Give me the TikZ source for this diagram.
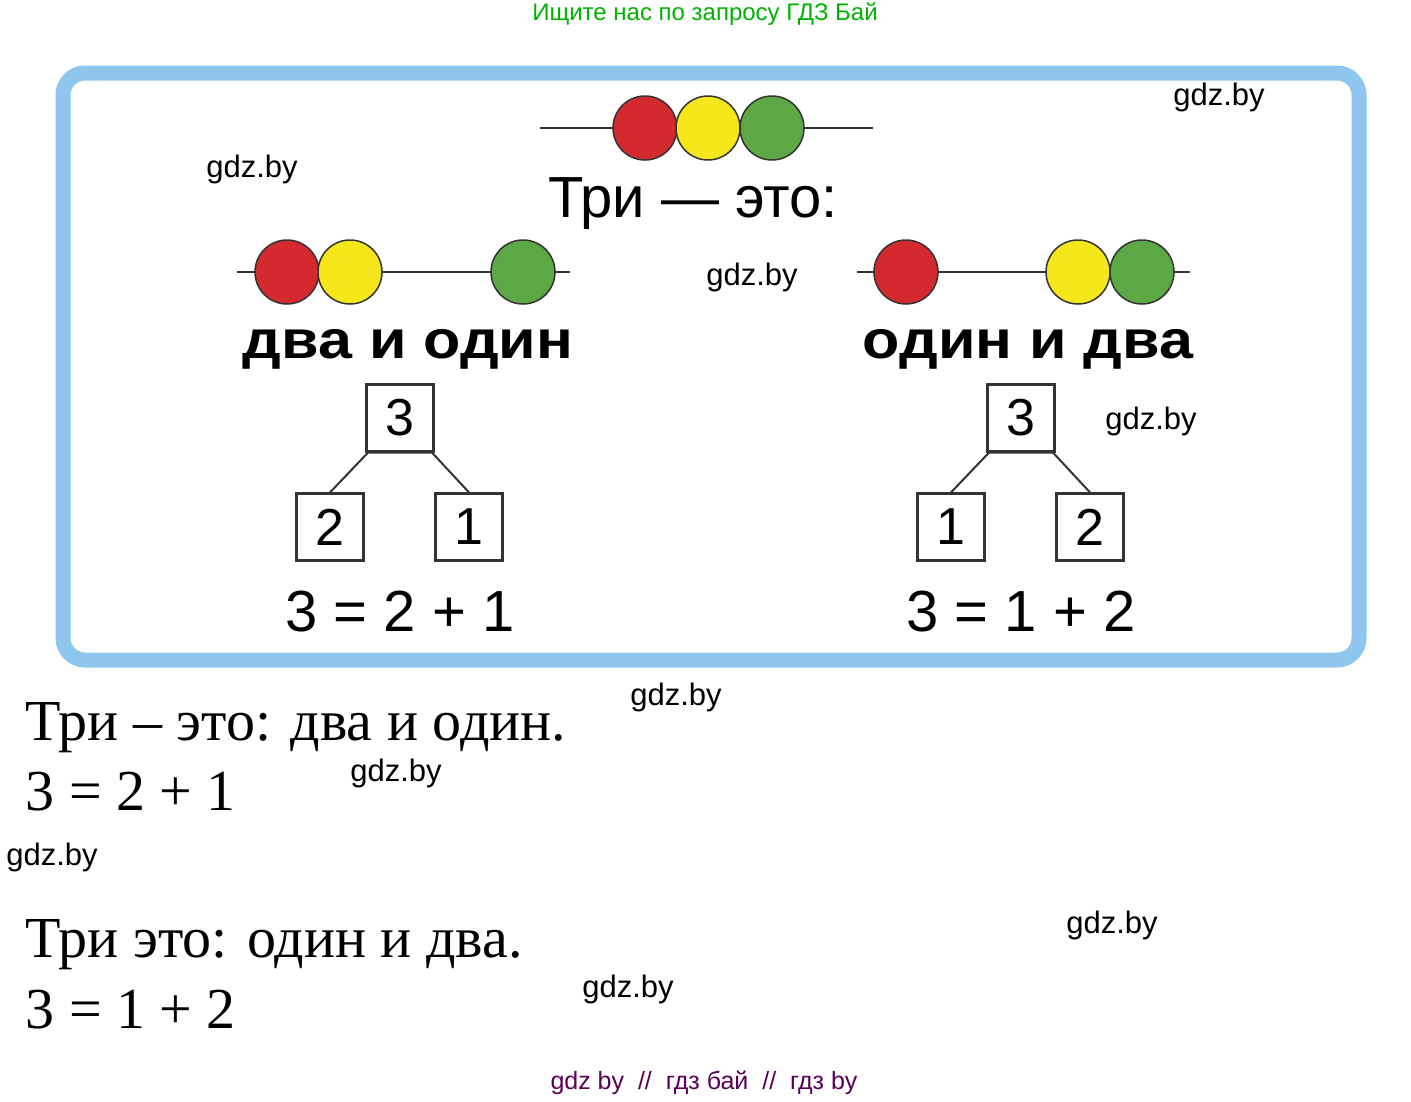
\documentclass[tikz,border=0pt]{standalone}
\usepackage{fontspec}
\setmainfont{Liberation Sans}
\newfontfamily\serf{Liberation Serif}
\begin{document}
\begin{tikzpicture}[x=1pt,y=-1pt,
  bead/.style={circle,draw=black!80,line width=1.5pt,minimum size=64pt,inner sep=0pt},
  num/.style={draw=black!80,line width=2.2pt,minimum size=67pt,inner sep=0pt,font=\fontsize{52}{52}\selectfont},
  wm/.style={font=\fontsize{31}{31}\selectfont},
  big/.style={font=\fontsize{58}{58}\selectfont},
  bw/.style={font=\fontsize{54}{54}\selectfont\bfseries,xscale=1.13},
  st/.style={anchor=base west,font=\serf\fontsize{58}{58}\selectfont},
  ln/.style={line width=2pt,black!80}]
\useasboundingbox (0,0) rectangle (1411,1101);
\definecolor{fr}{HTML}{8EC6EE}
\definecolor{rr}{HTML}{D42A2F}
\definecolor{yy}{HTML}{F6E61C}
\definecolor{gg}{HTML}{5BA845}
\node[text=green!70!black,font=\fontsize{24}{24}\selectfont] (top) at (705,14) {Ищите нас по запросу ГДЗ Бай};
\draw[fr,line width=15pt,rounded corners=22pt] (63,73) rectangle (1359,660);
% top beads
\coordinate (t1) at (540,128); \coordinate (t2) at (873,128);
\draw[ln] (t1) -- (t2);
\node[bead,fill=rr] (tr) at (645,128) {};
\node[bead,fill=yy] (ty) at (708,128) {};
\node[bead,fill=gg] (tg) at (772,128) {};
\node[big] (title) at (693,204) {Три — это:};
% left beads
\coordinate (l1) at (237,272); \coordinate (l2) at (570,272);
\draw[ln] (l1) -- (l2);
\node[bead,fill=rr] (lr) at (287,272) {};
\node[bead,fill=yy] (ly) at (350,272) {};
\node[bead,fill=gg] (lg) at (523,272) {};
\node[bw] (lt) at (408,349) {два и один};
% right beads
\coordinate (r1) at (857,272); \coordinate (r2) at (1190,272);
\draw[ln] (r1) -- (r2);
\node[bead,fill=rr] (rr1) at (906,272) {};
\node[bead,fill=yy] (ry) at (1078,272) {};
\node[bead,fill=gg] (rg) at (1142,272) {};
\node[bw] (rt) at (1028,349) {один и два};
% left tree
\node[num] (L3) at (400,418) {3};
\node[num] (L2) at (330,527) {2};
\node[num] (L1) at (469,527) {1};
\draw[ln] (L2.north) -- ([xshift=-32pt]L3.south) -- ([xshift=32pt]L3.south) -- (L1.north);
\node[big] (le) at (400,612) {3 = 2 + 1};
% right tree
\node[num] (R3) at (1021,418) {3};
\node[num] (R1) at (951,527) {1};
\node[num] (R2) at (1090,527) {2};
\draw[ln] (R1.north) -- ([xshift=-32pt]R3.south) -- ([xshift=32pt]R3.south) -- (R2.north);
\node[big] (re) at (1021,612) {3 = 1 + 2};
% solution text
\node[st] (s1) at (22,740) {Три – это: два и один.};
\node[st] (s2) at (22,810) {3 = 2 + 1};
\node[st] (s3) at (22,957) {Три это: один и два.};
\node[st] (s4) at (22,1028) {3 = 1 + 2};
% watermarks
\node[wm] (w1) at (1219,97) {gdz.by};
\node[wm] (w2) at (252,169) {gdz.by};
\node[wm] (w3) at (752,277) {gdz.by};
\node[wm] (w4) at (1151,421) {gdz.by};
\node[wm] (w5) at (676,697) {gdz.by};
\node[wm] (w6) at (396,773) {gdz.by};
\node[wm] (w7) at (52,857) {gdz.by};
\node[wm] (w8) at (1112,925) {gdz.by};
\node[wm] (w9) at (628,989) {gdz.by};
\node[text=violet!70!black,font=\fontsize{25}{25}\selectfont] (bot) at (704,1083) {gdz by \ // \ гдз бай \ // \ гдз by};
\end{tikzpicture}
\end{document}
